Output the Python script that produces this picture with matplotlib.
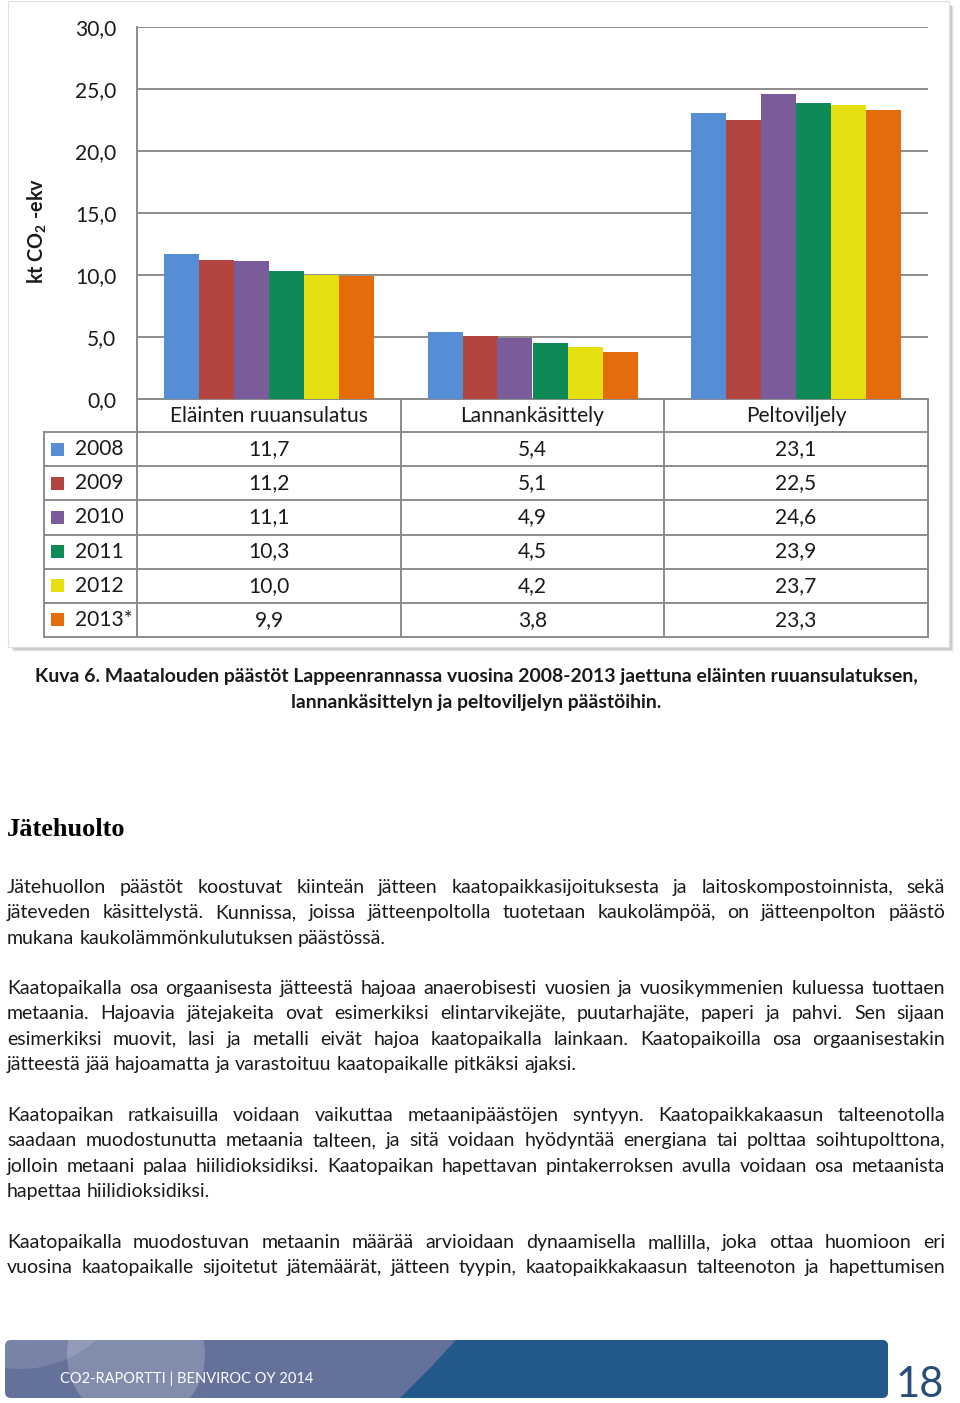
import matplotlib
matplotlib.use('Agg')
import matplotlib.pyplot as plt
from matplotlib.patches import Rectangle, FancyBboxPatch, Circle, Polygon
from matplotlib.font_manager import FontProperties

# ---------------- data ----------------
categories = ['Eläinten ruuansulatus', 'Lannankäsittely', 'Peltoviljely']
years = ['2008', '2009', '2010', '2011', '2012', '2013*']
v2008 = [11.7, 5.4, 23.1]
v2009 = [11.2, 5.1, 22.5]
v2010 = [11.1, 4.9, 24.6]
v2011 = [10.3, 4.5, 23.9]
v2012 = [10.0, 4.2, 23.7]
v2013 = [9.9, 3.8, 23.3]
series = [v2008, v2009, v2010, v2011, v2012, v2013]
colors = ['#558ed5', '#b3443f', '#7b5c9b', '#0d8a56', '#e6e010', '#e46c0a']
yticks = [0, 5, 10, 15, 20, 25, 30]

caption = ['Kuva 6. Maatalouden päästöt Lappeenrannassa vuosina 2008-2013 jaettuna eläinten ruuansulatuksen,',
           'lannankäsittelyn ja peltoviljelyn päästöihin.']
heading = 'Jätehuolto'
paragraphs = [
    ['Jätehuollon päästöt koostuvat kiinteän jätteen kaatopaikkasijoituksesta ja laitoskompostoinnista, sekä',
     'jäteveden käsittelystä. Kunnissa, joissa jätteenpoltolla tuotetaan kaukolämpöä, on jätteenpolton päästö',
     'mukana kaukolämmönkulutuksen päästössä.'],
    ['Kaatopaikalla osa orgaanisesta jätteestä hajoaa anaerobisesti vuosien ja vuosikymmenien kuluessa tuottaen',
     'metaania. Hajoavia jätejakeita ovat esimerkiksi elintarvikejäte, puutarhajäte, paperi ja pahvi. Sen sijaan',
     'esimerkiksi muovit, lasi ja metalli eivät hajoa kaatopaikalla lainkaan. Kaatopaikoilla osa orgaanisestakin',
     'jätteestä jää hajoamatta ja varastoituu kaatopaikalle pitkäksi ajaksi.'],
    ['Kaatopaikan ratkaisuilla voidaan vaikuttaa metaanipäästöjen syntyyn. Kaatopaikkakaasun talteenotolla',
     'saadaan muodostunutta metaania talteen, ja sitä voidaan hyödyntää energiana tai polttaa soihtupolttona,',
     'jolloin metaani palaa hiilidioksidiksi. Kaatopaikan hapettavan pintakerroksen avulla voidaan osa metaanista',
     'hapettaa hiilidioksidiksi.'],
    ['Kaatopaikalla muodostuvan metaanin määrää arvioidaan dynaamisella mallilla, joka ottaa huomioon eri',
     'vuosina kaatopaikalle sijoitetut jätemäärät, jätteen tyypin, kaatopaikkakaasun talteenoton ja hapettumisen'],
]
last_line_justified = [False, False, False, True]
footer_text = 'CO2-RAPORTTI | BENVIROC OY 2014'
page_number = '18'

# ---------------- setup ----------------
plt.rcParams['font.family'] = ['Lato', 'DejaVu Sans']
plt.rcParams['mathtext.fontset'] = 'custom'
plt.rcParams['mathtext.bf'] = 'Lato:bold'
plt.rcParams['mathtext.rm'] = 'Lato:bold'

W, H = 960, 1403
fig = plt.figure(figsize=(W / 100, H / 100), dpi=100)
page = fig.add_axes([0, 0, 1, 1])
page.set_xlim(0, W)
page.set_ylim(H, 0)
page.axis('off')

FS = 15.1
grid_c = '#8c8c8c'
txt_c = '#1a1a1a'

# chart frame with shadow
for i, a in enumerate([0.10, 0.07, 0.04]):
    page.add_patch(Rectangle((10 + i + 2, 3 + i + 2), 940, 645, facecolor='#000000', alpha=a,
                             edgecolor='none', zorder=0))
page.add_patch(Rectangle((8, 1), 941, 646, facecolor='white', edgecolor='#e0e0e0', lw=0.8, zorder=1))

# ---------------- bar chart ----------------
L, R, T, B = 137, 928, 27, 399
ax = fig.add_axes([L / W, 1 - B / H, (R - L) / W, (B - T) / H])
ax.set_facecolor('none')
ax.set_xlim(-0.5, 2.5)
ax.set_ylim(0, 30)
bw = 35 / ((R - L) / 3)
n = len(series)
for i, (vals, c) in enumerate(zip(series, colors)):
    xs = [g + (i - (n - 1) / 2) * bw for g in range(len(categories))]
    ax.bar(xs, vals, width=bw, color=c, zorder=3, linewidth=0)
ax.set_yticks(yticks)
ax.set_yticklabels([f'{t:.1f}'.replace('.', ',') for t in yticks], fontsize=FS, color=txt_c)
ax.tick_params(axis='y', length=0, pad=15)
ax.set_xticks([])
ax.grid(axis='y', color=grid_c, lw=1.4, zorder=0)
for s in ['top', 'right']:
    ax.spines[s].set_visible(False)
for s in ['left', 'bottom']:
    ax.spines[s].set_color(grid_c)
    ax.spines[s].set_linewidth(1.4)

page.text(37, 231, r'kt CO$_{\mathbf{2}}$ -ekv', rotation=90, ha='center', va='center',
          fontsize=14.2, fontweight='bold', color=txt_c, zorder=5)

# ---------------- data table ----------------
col_x = [137, 401, 664, 928]
row_top = 432
row_h = (637 - 432) / 6
lw_t = 1.4
page.plot([137, 928], [399, 399], color=grid_c, lw=lw_t, zorder=4)
for r in range(7):
    y = row_top + r * row_h
    page.plot([44, 928], [y, y], color=grid_c, lw=lw_t, zorder=4)
page.plot([44, 44], [432, 637], color=grid_c, lw=lw_t, zorder=4)
for x in col_x:
    page.plot([x, x], [399, 637], color=grid_c, lw=lw_t, zorder=4)
for j, cat in enumerate(categories):
    page.text((col_x[j] + col_x[j + 1]) / 2, 416, cat, ha='center', va='center',
              fontsize=FS, color=txt_c, zorder=5)
for i, (yr, vals, c) in enumerate(zip(years, series, colors)):
    yc = row_top + (i + 0.5) * row_h
    page.add_patch(Rectangle((51, yc - 6.5), 13, 13, facecolor=c, edgecolor='none', zorder=5))
    page.text(75, yc, yr, ha='left', va='center', fontsize=FS, color=txt_c, zorder=5)
    for j, v in enumerate(vals):
        page.text((col_x[j] + col_x[j + 1]) / 2, yc, f'{v:.1f}'.replace('.', ','),
                  ha='center', va='center', fontsize=FS, color=txt_c, zorder=5)

# ---------------- caption ----------------
for k, line in enumerate(caption):
    page.text(476, 682 + k * 26, line, ha='center', va='baseline', fontsize=13.95,
              fontweight='bold', color=txt_c)

# ---------------- heading ----------------
page.text(7, 836, heading, ha='left', va='baseline', fontsize=19,
          fontweight='bold', family='Liberation Serif', color='black')

# ---------------- body text (justified) ----------------
renderer = fig.canvas.get_renderer()
body_fp = FontProperties(family='Lato', size=14.0)
x0, x1 = 7, 945
space_w = renderer.get_text_width_height_descent(' ', body_fp, ismath=False)[0]
line_h = 25.4
para_starts = [893, 994, 1121, 1248]
for p, lines in enumerate(paragraphs):
    for li, line in enumerate(lines):
        y = para_starts[p] + li * line_h
        words = line.split(' ')
        widths = [renderer.get_text_width_height_descent(w, body_fp, ismath=False)[0] for w in words]
        is_last = li == len(lines) - 1
        if is_last and not last_line_justified[p]:
            gap = space_w * 1.0
        else:
            gap = (x1 - x0 - sum(widths)) / (len(words) - 1)
        x = x0
        for w, wd in zip(words, widths):
            page.text(x, y, w, ha='left', va='baseline', fontproperties=body_fp, color=txt_c)
            x += wd + gap

# ---------------- footer ----------------
fx0, fy0, fx1, fy1 = 5, 1340, 888, 1398
band = FancyBboxPatch((fx0 + 6, fy0 + 6), fx1 - fx0 - 12, fy1 - fy0 - 12,
                      boxstyle='round,pad=6', facecolor='#64719b', edgecolor='none', zorder=1)
page.add_patch(band)
shapes = [
    Circle((20, 1255), 114, facecolor='white', alpha=0.13, edgecolor='none', zorder=2),
    Circle((136, 1355), 69, facecolor='white', alpha=0.20, edgecolor='none', zorder=2),
    Polygon([(465, 1330), (900, 1330), (900, 1410), (398, 1410), (400, 1398), (432, 1366)],
            closed=True, facecolor='#23588a', edgecolor='none', zorder=3),
]
for s in shapes:
    page.add_patch(s)
    s.set_clip_path(band)
page.text(60, 1383, footer_text, ha='left', va='baseline', fontsize=10.5, color='white', zorder=5)
page.text(920, 1397, page_number, ha='center', va='baseline', fontsize=30, color='#2a4e7c',
          zorder=5)

fig.savefig('out.png', dpi=100)
